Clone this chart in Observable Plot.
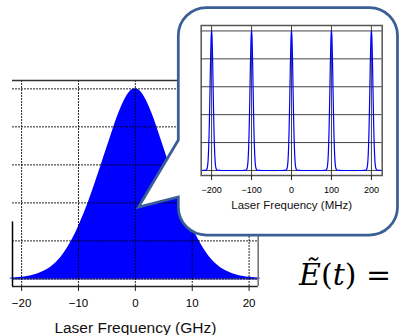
<!DOCTYPE html>
<html>
<head>
<meta charset="utf-8">
<script src="https://cdn.jsdelivr.net/npm/d3@7"></script>
<script src="https://cdn.jsdelivr.net/npm/@observablehq/plot@0.6"></script>
<style>
  html, body { margin: 0; padding: 0; background: #fff; }
  #fig { position: relative; width: 400px; height: 335px; overflow: hidden; background: #fff; }
  #fig > * { position: absolute; }
</style>
</head>
<body>
<div id="fig"></div>
<script>
// Broad laser line (GHz scale): frequency offsets and normalised intensity
const gaussFreq = [-22,-21,-20,-19,-18,-17,-16,-15,-14,-13,-12,-11,-10,-9,-8,-7,-6,-5,-4,-3,-2,-1,0,
                   1,2,3,4,5,6,7,8,9,10,11,12,13,14,15,16,17,18,19,20,21,22];
const gaussInt  = [0.004,0.006,0.009,0.013,0.019,0.028,0.041,0.059,0.084,0.117,0.16,0.212,0.275,0.345,0.425,0.51,0.60,0.69,0.78,0.865,0.935,0.983,1.0,
                   0.983,0.935,0.865,0.78,0.69,0.60,0.51,0.425,0.345,0.275,0.212,0.16,0.117,0.084,0.059,0.041,0.028,0.019,0.013,0.009,0.006,0.004];
const ghzTicks = [-20, -10, 0, 10, 20];
const ghzDomain = [-21.6, 21.6];
const levelDomain = [-0.04, 1.044];
const levelTicks = [0, 0.2, 0.4, 0.6, 0.8, 1.0];
const ghzTitle = "Laser Frequency (GHz)";

// Comb of narrow modes (MHz scale): mode centres and the shape of one mode
const modeCentres = [-200, -100, 0, 100, 200];
const modeOffset = [-25,-14,-12,-11,-10,-9,-8,-7,-6,-5,-4,-3,-2,-1,0,1,2,3,4,5,6,7,8,9,10,11,12,14,25];
const modeInt    = [0,0.002,0.008,0.016,0.032,0.06,0.11,0.185,0.29,0.42,0.57,0.73,0.87,0.965,1.0,0.965,0.87,0.73,0.57,0.42,0.29,0.185,0.11,0.06,0.032,0.016,0.008,0.002,0];
const mhzTicks = [-200, -100, 0, 100, 200];
const mhzDomain = [-226, 227];
const mhzTitle = "Laser Frequency (MHz)";

const gauss = gaussFreq.map((f, i) => ({f, v: gaussInt[i]}));
const comb = modeCentres.flatMap(c => modeOffset.map((o, i) => ({f: c + o, v: modeInt[i]})));

const font = "'Liberation Sans', Arial, Helvetica, sans-serif";
const fig = document.getElementById("fig");

// Main spectrum
const main = Plot.plot({
  width: 400, height: 335,
  marginLeft: 12, marginRight: 142.3, marginTop: 80, marginBottom: 49,
  x: {domain: ghzDomain, axis: null},
  y: {domain: levelDomain, axis: null},
  style: {fontFamily: font, background: "transparent", color: "#000", overflow: "visible"},
  marks: [
    Plot.areaY(gauss, {x: "f", y: "v", fill: "#0000ff", curve: "monotone-x"}),
    Plot.ruleY([0], {stroke: "#2424c8", strokeWidth: 1.2}),
    Plot.gridY(levelTicks, {stroke: "#000", strokeOpacity: 0.85, strokeDasharray: "2,1"}),
    Plot.gridX(ghzTicks, {stroke: "#000", strokeOpacity: 0.85, strokeDasharray: "2,1"}),
    // box edges
    Plot.ruleY([levelDomain[1]], {stroke: "#333", strokeWidth: 1.5}),
    Plot.ruleY([levelDomain[0]], {stroke: "#222", strokeWidth: 1.5}),
    Plot.ruleX([ghzDomain[1]], {stroke: "#777", strokeWidth: 1.6}),
    Plot.ruleX([ghzDomain[0]], {y1: levelDomain[0], y2: 0.3, stroke: "#000", strokeWidth: 1.5}),
    Plot.axisX(ghzTicks, {tickSize: 5, tickPadding: 7.5, fontSize: 11.5, stroke: "#222", label: null}),
    Plot.text([ghzTitle], {text: d => d, frameAnchor: "bottom", lineAnchor: "bottom", dy: 46.5,
      fontSize: 15.5, fill: "#111"})
  ]
});
main.style.left = "0px";
main.style.top = "0px";
fig.appendChild(main);

// Speech bubble and equation
const L = 178.3, R = 397.5, T = 7.5, B = 235, r = 28;
const over = d3.create("svg").attr("width", 400).attr("height", 335).style("left", "0px").style("top", "0px");
over.append("path")
  .attr("d", `M${L},140 L${L},${T + r} A${r},${r} 0 0 1 ${L + r},${T} L${R - r},${T} A${r},${r} 0 0 1 ${R},${T + r}
              L${R},${B - r} A${r},${r} 0 0 1 ${R - r},${B} L${L + r},${B} A${r},${r} 0 0 1 ${L},${B - r}
              L${L},197 L138.5,207 Z`)
  .attr("fill", "#fff").attr("stroke", "#3a5f96").attr("stroke-width", 2.75).attr("stroke-linejoin", "miter");
const eq = over.append("text").attr("x", 299).attr("y", 284.5)
  .attr("font-family", "'DejaVu Serif', 'Liberation Serif', serif").attr("font-size", 30).attr("fill", "#000");
eq.append("tspan").attr("font-style", "italic").text("Ẽ");
eq.append("tspan").text("(");
eq.append("tspan").attr("font-style", "italic").text("t");
eq.append("tspan").text(") =");
fig.appendChild(over.node());

// Inset: resolved mode comb
const insetLevel = [-0.036, 1.039];
const inset = Plot.plot({
  width: 210, height: 205,
  marginLeft: 10.7, marginRight: 18.3, marginTop: 10, marginBottom: 45,
  x: {domain: mhzDomain, axis: null},
  y: {domain: insetLevel, axis: null},
  style: {fontFamily: font, background: "transparent", color: "#000", overflow: "visible"},
  marks: [
    Plot.gridY(levelTicks, {stroke: "#222", strokeOpacity: 0.85, strokeWidth: 1}),
    Plot.gridX(mhzTicks, {stroke: "#222", strokeOpacity: 0.85, strokeWidth: 1}),
    Plot.lineY(comb, {x: "f", y: "v", stroke: "#0000ff", strokeWidth: 1.2}),
    Plot.frame({stroke: "#555", strokeWidth: 1.5}),
    Plot.axisX(mhzTicks, {tickSize: 5, tickPadding: 6, fontSize: 9, stroke: "#222", label: null}),
    Plot.text([mhzTitle], {text: d => d, frameAnchor: "bottom", lineAnchor: "bottom", dy: 33,
      fontSize: 11.5, fill: "#111"})
  ]
});
inset.style.left = "190px";
inset.style.top = "15px";
fig.appendChild(inset);
</script>
</body>
</html>
